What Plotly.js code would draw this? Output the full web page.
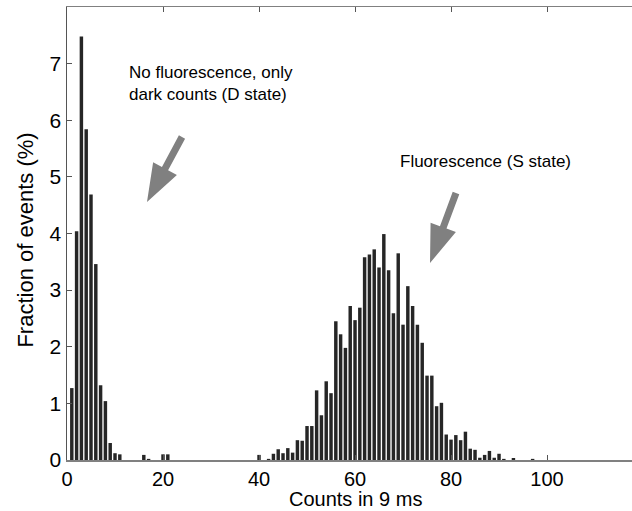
<!DOCTYPE html>
<html>
<head>
<meta charset="utf-8">
<script src="https://cdn.plot.ly/plotly-3.0.1.min.js"></script>
<style>html,body{margin:0;padding:0;background:#fff;}#chart{width:632px;height:511px;}</style>
</head>
<body>
<div id="chart"></div>
<script>
// Counts in 9 ms (histogram bins)
var counts = [1,2,3,4,5,6,7,8,9,10,11,16,17,20,21,40,42,43,44,45,46,47,48,49,50,51,52,53,54,55,56,57,58,59,60,61,62,63,64,65,66,67,68,69,70,71,72,73,74,75,76,77,78,79,80,81,82,83,84,85,86,87,88,89,90,91,93,97];
// Fraction of events (%)
var fraction = [1.27,4.04,7.48,5.84,4.69,3.46,1.32,1.04,0.30,0.12,0.10,0.09,0.02,0.10,0.10,0.09,0.02,0.11,0.19,0.12,0.21,0.13,0.35,0.34,0.60,0.60,1.23,0.79,1.39,1.18,2.45,2.22,1.98,2.72,2.47,2.69,3.58,3.63,3.72,3.40,3.99,3.35,2.59,3.65,2.39,3.07,2.72,2.39,2.07,1.49,1.49,0.95,1.01,0.45,0.36,0.44,0.35,0.50,0.20,0.18,0.04,0.09,0.16,0.04,0.11,0.02,0.035,0.02];
var xTicks = [0,20,40,60,80,100];
var yTicks = [0,1,2,3,4,5,6,7];

var W = 632, H = 511, ML = 67, MR = 0, MT = 7, MB = 51;
var PW = W - ML - MR, PH = H - MT - MB;

// Arrow (tip, tail) in pixel positions of the picture, converted to paper coords
function arrowPath(tip, tail, headLen, headHalf, shaftHalf) {
  var dx = tail[0] - tip[0], dy = tail[1] - tip[1];
  var L = Math.sqrt(dx*dx + dy*dy);
  var ux = dx / L, uy = dy / L, nx = -uy, ny = ux;
  var bx = tip[0] + ux*headLen, by = tip[1] + uy*headLen;
  var pts = [
    tip,
    [bx + nx*headHalf, by + ny*headHalf],
    [bx + nx*shaftHalf, by + ny*shaftHalf],
    [tail[0] + nx*shaftHalf, tail[1] + ny*shaftHalf],
    [tail[0] - nx*shaftHalf, tail[1] - ny*shaftHalf],
    [bx - nx*shaftHalf, by - ny*shaftHalf],
    [bx - nx*headHalf, by - ny*headHalf]
  ];
  return pts.map(function (p, i) {
    var px = (p[0] - ML) / PW, py = (MT + PH - p[1]) / PH;
    return (i ? 'L' : 'M') + px.toFixed(5) + ',' + py.toFixed(5);
  }).join(' ') + ' Z';
}

var trace = {
  type: 'bar',
  x: counts,
  y: fraction,
  width: 0.72,
  marker: {color: '#262626', line: {width: 0}},
  hoverinfo: 'x+y'
};

var font = "Liberation Sans, Arial, sans-serif";
var layout = {
  width: W, height: H,
  margin: {l: ML, r: MR, t: MT, b: MB},
  paper_bgcolor: '#fff', plot_bgcolor: '#fff',
  showlegend: false,
  font: {family: font, color: '#000'},
  xaxis: {
    range: [0, 117.7],
    tickvals: xTicks, ticktext: xTicks.map(String),
    ticks: 'inside', ticklen: 5, tickcolor: '#555',
    showline: true, linecolor: '#808080', linewidth: 1.5,
    mirror: 'ticks', showgrid: false, zeroline: false,
    tickfont: {size: 20, family: font, color: '#000'}
  },
  yaxis: {
    range: [0, 8],
    tickvals: yTicks, ticktext: yTicks.map(String),
    ticks: 'inside', ticklen: 5, tickcolor: '#555',
    showline: true, linecolor: '#555', linewidth: 1.5,
    mirror: false, showgrid: false, zeroline: false,
    tickfont: {size: 21, family: font, color: '#000'}
  },
  shapes: [
    {type: 'path', xref: 'paper', yref: 'paper', path: arrowPath([147, 202], [182, 137], 38, 13.5, 3.5),
     fillcolor: '#808080', line: {width: 0}},
    {type: 'path', xref: 'paper', yref: 'paper', path: arrowPath([430, 263], [456, 193], 38, 13.5, 3.5),
     fillcolor: '#808080', line: {width: 0}}
  ],
  annotations: [
    {xref: 'paper', yref: 'paper', x: 0.511, y: -0.1126, xanchor: 'center', yanchor: 'bottom', borderpad: 0,
     text: 'Counts in 9 ms', showarrow: false, font: {size: 20, family: font, color: '#000'}},
    {xref: 'paper', yref: 'paper', x: -0.073, y: 0.486, xanchor: 'center', yanchor: 'middle',
     textangle: -90, text: 'Fraction of events (%)', showarrow: false, font: {size: 22, family: font, color: '#000'}},
    {xref: 'paper', yref: 'paper', x: 0.1062, y: 0.832, xanchor: 'left', yanchor: 'middle', align: 'left',
     text: 'No fluorescence, only<br>dark counts (D state)', showarrow: false, font: {size: 17, family: font, color: '#000'}},
    {xref: 'paper', yref: 'paper', x: 0.5867, y: 0.658, xanchor: 'left', yanchor: 'middle',
     text: 'Fluorescence (S state)', showarrow: false, font: {size: 17, family: font, color: '#000'}}
  ]
};

Plotly.newPlot('chart', [trace], layout, {displayModeBar: false, staticPlot: true});
</script>
</body>
</html>
